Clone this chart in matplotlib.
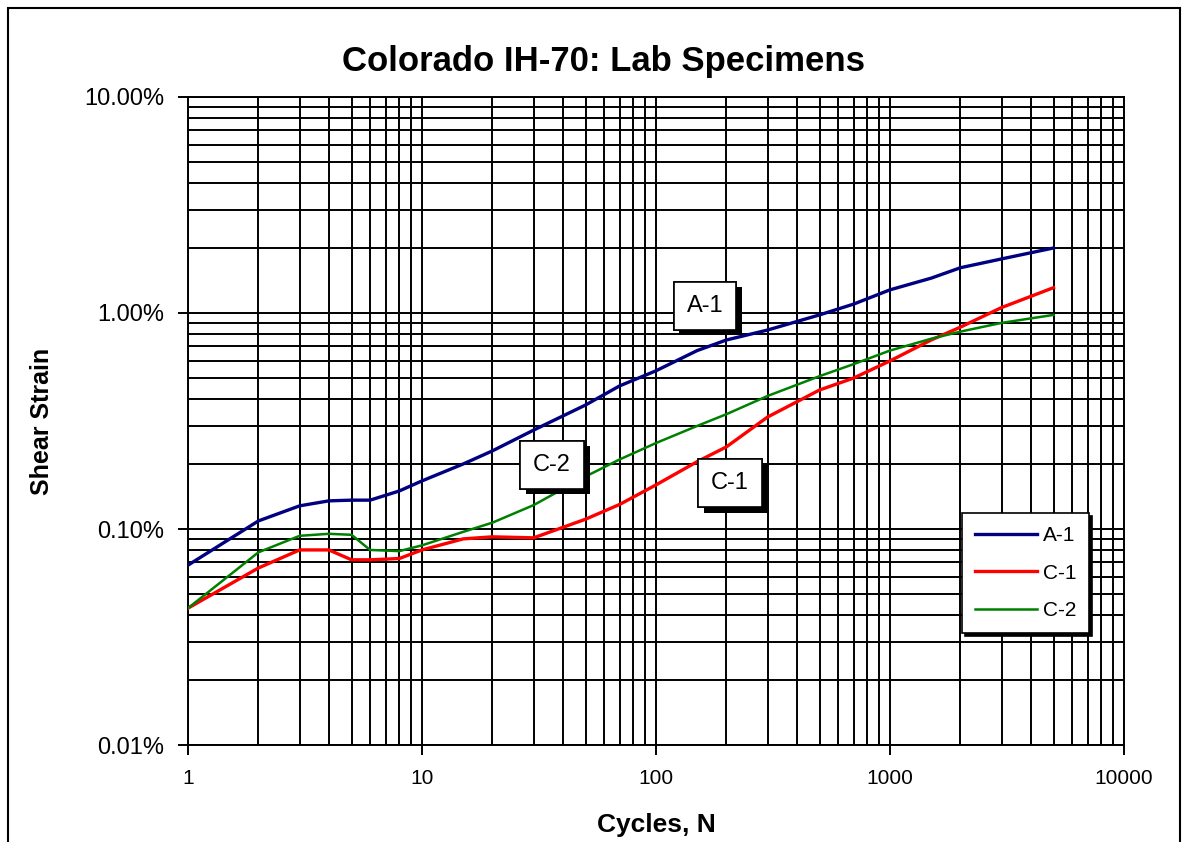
import matplotlib
matplotlib.use("Agg")
import matplotlib.pyplot as plt
import matplotlib.patheffects as pe
from matplotlib.patches import Rectangle
from matplotlib.ticker import FuncFormatter, LogLocator, NullFormatter

plt.rcParams['font.family'] = ['Liberation Sans', 'DejaVu Sans']

# cycles and shear strain (%)
cycles = [1, 2, 3, 4, 5, 6, 8, 10, 15, 20, 30, 50, 70, 100, 150, 200,
          300, 500, 700, 1000, 1500, 2000, 3000, 5000]
a1 = [0.068, 0.109, 0.128, 0.135, 0.136, 0.136, 0.150, 0.167, 0.20, 0.23,
      0.287, 0.375, 0.46, 0.54, 0.67, 0.75, 0.834, 0.98, 1.10, 1.28,
      1.45, 1.62, 1.78, 2.0]
c1 = [0.043, 0.066, 0.080, 0.080, 0.072, 0.072, 0.073, 0.080, 0.090, 0.092,
      0.091, 0.111, 0.13, 0.16, 0.205, 0.24, 0.33, 0.44, 0.50, 0.60,
      0.75, 0.86, 1.06, 1.31]
c2 = [0.043, 0.078, 0.093, 0.095, 0.094, 0.080, 0.079, 0.084, 0.097, 0.107,
      0.129, 0.175, 0.21, 0.25, 0.30, 0.34, 0.413, 0.51, 0.58, 0.67,
      0.76, 0.82, 0.90, 0.98]

series_names = ['A-1', 'C-1', 'C-2']
# label positions (cycles, strain %)
label_pos = {'A-1': (162, 1.08), 'C-2': (36, 0.198), 'C-1': (207, 0.163)}

fig = plt.figure(figsize=(11.89, 8.42), dpi=100)
ax = fig.add_axes([0.1581, 0.1152, 0.7872, 0.7696])

ax.plot(cycles, a1, color='#000080', lw=2.4, label='A-1', zorder=3)
ax.plot(cycles, c1, color='#ff0000', lw=2.4, label='C-1', zorder=3)
ax.plot(cycles, c2, color='#008000', lw=1.8, label='C-2', zorder=3)

ax.set_xscale('log')
ax.set_yscale('log')
ax.set_xlim(1, 10000)
ax.set_ylim(0.01, 10)

ax.xaxis.set_major_locator(LogLocator(base=10))
ax.xaxis.set_minor_locator(LogLocator(base=10, subs=range(2, 10)))
ax.yaxis.set_major_locator(LogLocator(base=10))
ax.yaxis.set_minor_locator(LogLocator(base=10, subs=range(2, 10)))
ax.xaxis.set_major_formatter(FuncFormatter(lambda v, p: '%d' % round(v)))
ax.yaxis.set_major_formatter(FuncFormatter(lambda v, p: '%.2f%%' % v))
ax.xaxis.set_minor_formatter(NullFormatter())
ax.yaxis.set_minor_formatter(NullFormatter())

ax.grid(True, which='both', color='black', lw=1.4)
ax.set_axisbelow(True)
ax.tick_params(which='major', length=7, width=1.4, pad=10)
ax.tick_params(axis='x', which='major', labelsize=15)
ax.tick_params(axis='y', which='major', labelsize=17)
ax.tick_params(which='minor', length=0)
for s in ax.spines.values():
    s.set_linewidth(1.4)

fig.text(603 / 1189, 1 - 62 / 842, 'Colorado IH-70: Lab Specimens', fontsize=25,
         fontweight='bold', ha='center', va='center')
ax.set_ylabel('Shear Strain', fontsize=18, fontweight='bold', labelpad=22)
ax.set_xlabel('Cycles, N', fontsize=19, fontweight='bold', labelpad=18)

for name in series_names:
    x, y = label_pos[name]
    t = ax.text(x, y, name, fontsize=17, ha='center', va='center', zorder=5,
                bbox=dict(boxstyle='square,pad=0.55', fc='white', ec='black', lw=1.2))
    t.get_bbox_patch().set_path_effects([
        pe.withSimplePatchShadow(offset=(4, -4), shadow_rgbFace='black', alpha=1), pe.Normal()])

leg = ax.legend(loc='lower left', bbox_to_anchor=(0.827, 0.173), fontsize=15,
                fancybox=False, edgecolor='black', framealpha=1, handlelength=3,
                borderpad=0.6, labelspacing=0.9, handletextpad=0.3, borderaxespad=0,
                shadow={'color': 'black', 'alpha': 1, 'ox': 2, 'oy': -2})
leg.get_frame().set_linewidth(1.2)
leg.set_zorder(6)

fig.patches.append(Rectangle((8 / 1189, -0.01), 1172 / 1189, 1 - 8 / 842 + 0.01,
                             transform=fig.transFigure, fill=False, ec='black', lw=1.5))

fig.savefig('out.png', dpi=100)
